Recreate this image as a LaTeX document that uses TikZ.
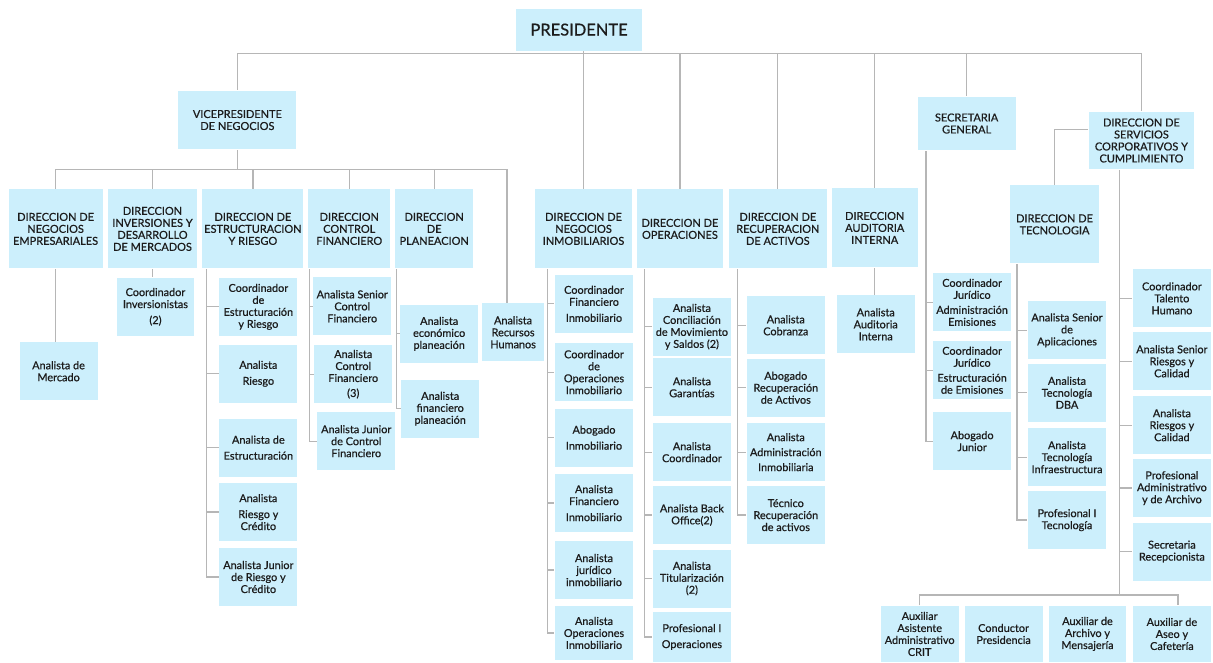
\documentclass[tikz,border=0pt]{standalone}
\usepackage{fontspec}
\setmainfont{Lato}[FakeBold=0.6]
\usetikzlibrary{positioning}
\definecolor{boxblue}{RGB}{204,239,252}
\definecolor{wire}{RGB}{182,182,182}
\definecolor{ink}{RGB}{28,28,28}

\begin{document}
\begin{tikzpicture}[x=1pt,y=-1pt,
  box/.style={fill=boxblue,text=ink,align=center,inner sep=0pt},
  head/.style={box,font=\fontsize{11}{12}\selectfont,minimum height=79pt},
  role/.style={box,font=\fontsize{10.9}{12}\selectfont,minimum width=78pt,minimum height=58pt},
  every path/.style={draw=wire,line width=1.3pt}]
\useasboundingbox (0,0) rectangle (1213,662);
\fill[white] (0,0) rectangle (1213,662);
% top levels
\node[box,font=\fontsize{16.5}{18}\selectfont,minimum width=126pt,minimum height=42pt] (pres) at (579,29) {PRESIDENTE};
\node[head,minimum width=118pt,minimum height=59pt] (vpn) at (237,119.5) {VICEPRESIDENTE\\DE NEGOCIOS};
\node[head,minimum width=98pt,minimum height=54pt] (sec) at (967,123) {SECRETARIA\\GENERAL};
\node[head,minimum width=106pt,minimum height=58pt] (svc) at (1142,140) {DIRECCION DE\\SERVICIOS\\CORPORATIVOS Y\\CUMPLIMIENTO};
% direcciones
\node[head,minimum width=94pt] (dne) at (55,228.5) {DIRECCION DE\\NEGOCIOS\\EMPRESARIALES};
\node[head,minimum width=90pt] (din) at (152,228.5) {DIRECCION\\INVERSIONES Y\\DESARROLLO\\DE MERCADOS};
\node[head,minimum width=101pt] (des) at (252.5,228.5) {DIRECCION DE\\ESTRUCTURACION\\Y RIESGO};
\node[head,minimum width=82pt] (dcf) at (349,228.5) {DIRECCION\\CONTROL\\FINANCIERO};
\node[head,minimum width=78pt] (dpl) at (434,228.5) {DIRECCION\\DE\\PLANEACION};
\node[head,minimum width=97pt] (dni) at (583.5,228.5) {DIRECCION DE\\NEGOCIOS\\INMOBILIARIOS};
\node[head,minimum width=86pt] (dop) at (680,228.5) {DIRECCION DE\\OPERACIONES};
\node[head,minimum width=98pt] (drec) at (778,228.5) {DIRECCION DE\\RECUPERACION\\DE ACTIVOS};
\node[head,minimum width=86pt] (daud) at (875,227.5) {DIRECCION\\AUDITORIA\\INTERNA};
\node[head,minimum width=90pt,minimum height=78pt] (dtec) at (1055,224) {DIRECCION DE\\TECNOLOGIA};
% cargos
\node[role] (am) at (58,371) {Analista de\\Mercado};
\node[role] (cinv) at (155,306.5) {Coordinador\\Inversionistas\\[4pt](2)};
\node[role] (e1) at (258,306.5) {Coordinador\\de\\Estructuración\\y Riesgo};
\node[role] (e2) at (258,373.5) {Analista\\[4pt]Riesgo};
\node[role] (e3) at (258,447.5) {Analista de\\[4pt]Estructuración};
\node[role] (e4) at (258,512) {Analista\\[4pt]Riesgo y\\Crédito};
\node[role] (e5) at (258,577) {Analista Junior\\de Riesgo y\\Crédito};
\node[role] (c1) at (352,306) {Analista Senior\\Control\\Financiero};
\node[role] (c2) at (353,374) {Analista\\Control\\Financiero\\[3pt](3)};
\node[role] (c3) at (356,441) {Analista Junior\\de Control\\Financiero};
\node[role] (p1) at (439,333.5) {Analista\\económico\\planeación};
\node[role] (p2) at (440,408.5) {Analista\\financiero\\planeación};
\node[role,minimum width=62pt] (arh) at (513,332) {Analista\\Recursos\\Humanos};
\node[role] (n1) at (594,303.5) {Coordinador\\Financiero\\[4pt]Inmobiliario};
\node[role] (n2) at (594,372) {Coordinador\\de\\Operaciones\\Inmobiliario};
\node[role] (n3) at (594,437.5) {Abogado\\[4pt]Inmobiliario};
\node[role] (n4) at (594,503) {Analista\\Financiero\\[4pt]Inmobiliario};
\node[role] (n5) at (594,570) {Analista\\jurídico\\inmobiliario};
\node[role,minimum height=54pt] (n6) at (594,633) {Analista\\Operaciones\\Inmobiliario};
\node[role] (o1) at (692,326.5) {Analista\\Conciliación\\de Movimiento\\y Saldos (2)};
\node[role] (o2) at (692,387) {Analista\\Garantías};
\node[role] (o3) at (692,452) {Analista\\Coordinador};
\node[role] (o4) at (692,515) {Analista Back\\Office(2)};
\node[role] (o5) at (692,578.5) {Analista\\Titularización\\(2)};
\node[role,minimum height=50pt] (o6) at (692,637) {Profesional I\\[4pt]Operaciones};
\node[role] (r1) at (786,325) {Analista\\Cobranza};
\node[role] (r2) at (786,387.5) {Abogado\\Recuperación\\de Activos};
\node[role] (r3) at (786,452) {Analista\\[3pt]Administración\\[3pt]Inmobiliaria};
\node[role] (r4) at (786,515) {Técnico\\Recuperación\\de activos};
\node[role] (aud) at (876,324) {Analista\\Auditoria\\Interna};
\node[role] (s1) at (972.5,302) {Coordinador\\Jurídico\\[3pt]Administración\\Emisiones};
\node[role] (s2) at (972.5,370) {Coordinador\\Jurídico\\[3pt]Estructuración\\de Emisiones};
\node[role] (s3) at (972.5,441) {Abogado\\Junior};
\node[role] (t1) at (1067.5,330) {Analista Senior\\de\\Aplicaciones};
\node[role] (t2) at (1067.5,392.5) {Analista\\Tecnología\\DBA};
\node[role] (t3) at (1067.5,457) {Analista\\Tecnología\\Infraestructura};
\node[role] (t4) at (1067.5,520) {Profesional I\\Tecnología};
\node[role] (v1) at (1172.5,298) {Coordinador\\Talento\\Humano};
\node[role] (v2) at (1172.5,361) {Analista Senior\\Riesgos y\\Calidad};
\node[role] (v3) at (1172.5,425) {Analista\\Riesgos y\\Calidad};
\node[role] (v4) at (1172.5,488) {Profesional\\Administrativo\\y de Archivo};
\node[role] (v5) at (1172.5,551.5) {Secretaria\\Recepcionista};
\node[role,minimum height=56pt] (b1) at (920,634) {Auxiliar\\Asistente\\Administrativo\\CRIT};
\node[role,minimum height=56pt] (b2) at (1004,634) {Conductor\\Presidencia};
\node[role,minimum height=56pt] (b3) at (1088,634) {Auxiliar de\\Archivo y\\Mensajería};
\node[role,minimum height=56pt] (b4) at (1172.5,634) {Auxiliar de\\Aseo y\\Cafetería};
% lineas de mando
\coordinate (pbus) at (0,53);
\coordinate (vbus) at (0,169);
\coordinate (bbus) at (0,595);
\draw (vpn.north) |- (svc.north |- pbus) -- (svc.north);
\draw (pres.south -| dni.north) -- (dni.north);
\foreach \n in {dop,drec,daud,sec} \draw (\n.north |- pbus) -- (\n.north);
\draw (vpn.south) -- (vpn.south |- vbus);
\draw (dne.north) |- ([xshift=-6pt]arh.north |- vbus) -- ([xshift=-6pt]arh.north);
\foreach \n in {din,des,dcf,dpl} \draw (\n.north |- vbus) -- (\n.north);
\draw ([yshift=11pt]svc.west) -| (dtec.north);
\draw (dne.south) -- (dne.south |- am.north);
\draw (din.south) -- (din.south |- cinv.north);
\draw (daud.south) -- (daud.south |- aud.north);
\foreach \i in {1,...,5} \draw ([xshift=5pt]des.south west) |- (e\i.west);
\foreach \i in {1,2,3} \draw ([xshift=2pt]dcf.south west) |- (c\i.west);
\foreach \i in {1,2} \draw ([xshift=2pt]dpl.south west) |- (p\i.west);
\foreach \i in {1,...,6} \draw ([xshift=13pt]dni.south west) |- (n\i.west);
\foreach \i in {1,...,6} \draw ([xshift=8pt]dop.south west) |- (o\i.west);
\foreach \i in {1,...,4} \draw ([xshift=9pt]drec.south west) |- (r\i.west);
\foreach \i in {1,2,3} \draw ([xshift=9pt]sec.south west) |- (s\i.west);
\foreach \i in {1,...,4} \draw ([xshift=8pt]dtec.south west) |- (t\i.west);
\foreach \i in {1,...,5} \draw ([xshift=32pt]svc.south west) |- (v\i.west);
\draw ([xshift=32pt]svc.south west) -- ([xshift=32pt]svc.south west |- bbus);
\draw (b1.north) |- ([xshift=6pt]b4.north |- bbus) -- ([xshift=6pt]b4.north);
\end{tikzpicture}
\end{document}
